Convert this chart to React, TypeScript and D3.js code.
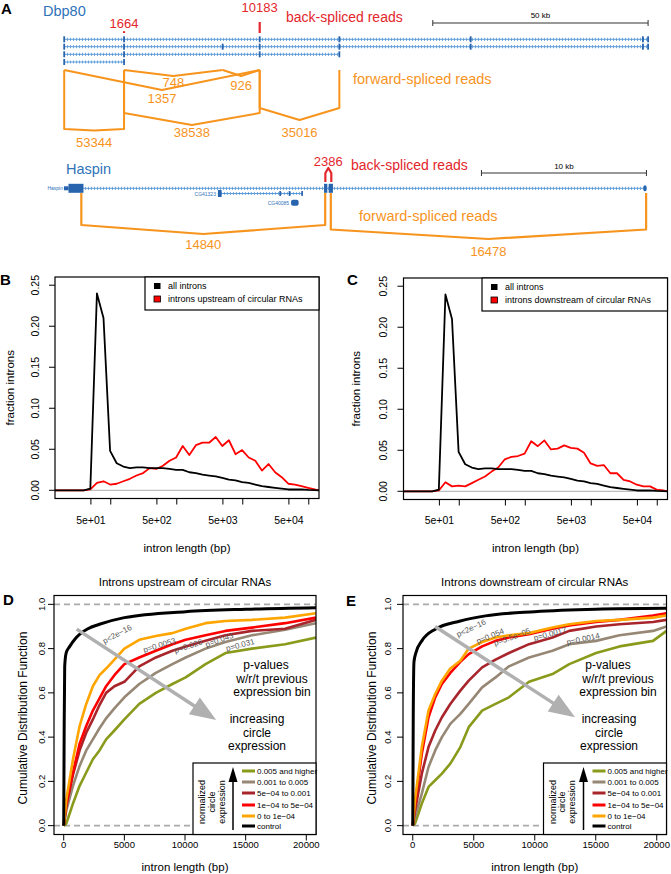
import React from "react";
import * as d3 from "d3";

const FONT = "'Liberation Sans', Arial, Helvetica, sans-serif";
const BLUE_TXT = "#2f73b8";
const TX_BLUE = "#5b9bd8";
const EXON_BLUE = "#2864ae";
const RED_A = "#e3262b";
const ORANGE_A = "#f7941d";

// ---------------- Panel A data (kb, reads) ----------------
const dbp80Transcripts: number[][] = [
  [0, 13.9, 45.4, 63.9, 94.4, 134.4, 135.6],
  [0, 13.9, 36.8, 45.4, 63.9, 94.4, 134.4, 135.6],
  [0, 13.9, 45.4, 63.9],
  [0, 13.9],
];
const dbp80BackPos = [13.9, 45.4];
const dbp80BackReads = [1664, 10183];
const dbp80FwdFrom = [0, 13.9, 45.4, 0, 13.9, 36.8];
const dbp80FwdTo = [13.9, 45.4, 63.9, 45.4, 36.8, 45.4];
const dbp80FwdReads = [53344, 38538, 35016, 1357, 748, 926];

const haspinExonStart = [0, 0.27, 15.76, 16.04, 35.12];
const haspinExonEnd = [0.27, 1.18, 15.96, 16.3, 35.3];
const cg41323ExonStart = [9.33, 13.05, 13.62, 14.38];
const cg41323ExonEnd = [9.55, 13.15, 13.72, 14.48];
const cg40085ExonStart = [13.76];
const cg40085ExonEnd = [14.22];
const haspinBackLegs = [15.84, 16.2];
const haspinBackReads = 2386;
const haspinFwdFrom = [1.05, 16.17];
const haspinFwdTo = [15.83, 35.28];
const haspinFwdReads = [14840, 16478];

// ---------------- Panels B/C data ----------------
const intronLenBins = [15.5, 19.5, 24.5, 30.9, 38.9, 49, 61.7, 77.6, 97.7, 123, 155, 195, 245, 309, 389, 490, 617, 776, 977, 1230, 1549, 1950, 2455, 3090, 3890, 4898, 6166, 7762, 9772, 12303, 15488, 19498, 24547, 30903, 38905, 48978, 61660, 77625, 97724, 123027];
const allIntronsFrac = [0, 0, 0, 0, 0, 0.002, 0.24, 0.21, 0.048, 0.033, 0.029, 0.027, 0.028, 0.028, 0.027, 0.027, 0.027, 0.026, 0.025, 0.025, 0.022, 0.021, 0.019, 0.018, 0.017, 0.015, 0.013, 0.012, 0.010, 0.009, 0.007, 0.005, 0.004, 0.003, 0.002, 0.001, 0.001, 0.001, 0.0005, 0.0003];
const upstreamFrac = [0, 0, 0, 0, 0, 0.001, 0.009, 0.011, 0.007, 0.008, 0.011, 0.014, 0.018, 0.021, 0.027, 0.026, 0.030, 0.036, 0.040, 0.054, 0.043, 0.055, 0.058, 0.058, 0.065, 0.054, 0.061, 0.044, 0.049, 0.040, 0.036, 0.024, 0.032, 0.022, 0.016, 0.008, 0.007, 0.005, 0.003, 0.001];
const downstreamFrac = [0, 0, 0, 0, 0, 0.001, 0.011, 0.006, 0.007, 0.006, 0.010, 0.014, 0.018, 0.024, 0.029, 0.039, 0.042, 0.043, 0.046, 0.061, 0.055, 0.062, 0.051, 0.052, 0.056, 0.053, 0.052, 0.047, 0.034, 0.031, 0.032, 0.022, 0.022, 0.014, 0.012, 0.008, 0.006, 0.006, 0.002, 0.001];
const densityXTicks = [50, 100, 500, 1000, 5000, 10000, 50000, 100000];
const densityXLabels = ["5e+01", "", "5e+02", "", "5e+03", "", "5e+04", ""];
const densityYTicks = [0, 0.05, 0.1, 0.15, 0.2, 0.25];
const densityYLabels = ["0.00", "0.05", "0.10", "0.15", "0.20", "0.25"];

// ---------------- Panels D/E data ----------------
const cdfLenD = [0, 219, 765, 1311, 1858, 2404, 2951, 3497, 4180, 5000, 6230, 7596, 8962, 10055, 11694, 13333, 15519, 18251, 20800];
const upOlive = [0, 0.01, 0.10, 0.18, 0.24, 0.30, 0.34, 0.39, 0.43, 0.48, 0.55, 0.60, 0.64, 0.67, 0.73, 0.78, 0.80, 0.82, 0.85];
const upBrown = [0, 0.07, 0.18, 0.27, 0.34, 0.39, 0.44, 0.485, 0.53, 0.58, 0.64, 0.69, 0.73, 0.76, 0.80, 0.83, 0.86, 0.885, 0.915];
const upDarkRed = [0, 0.09, 0.23, 0.34, 0.42, 0.48, 0.545, 0.60, 0.63, 0.65, 0.72, 0.76, 0.79, 0.81, 0.835, 0.86, 0.88, 0.89, 0.93];
const upRed = [0, 0.10, 0.24, 0.37, 0.45, 0.52, 0.575, 0.63, 0.68, 0.73, 0.76, 0.79, 0.82, 0.84, 0.86, 0.88, 0.895, 0.915, 0.94];
const upOrange = [0, 0.12, 0.30, 0.45, 0.55, 0.63, 0.68, 0.71, 0.75, 0.80, 0.84, 0.857, 0.87, 0.89, 0.915, 0.925, 0.93, 0.94, 0.96];
const controlLenD = [0, 40, 82, 200, 500, 1038, 2000, 2951, 5000, 10055, 15000, 20800];
const upControl = [0, 0.45, 0.72, 0.78, 0.81, 0.85, 0.89, 0.91, 0.94, 0.967, 0.978, 0.985];

const cdfLenE = [0, 192, 742, 1291, 1841, 2390, 3077, 3901, 4588, 5687, 6786, 7885, 9533, 11456, 12830, 15027, 16951, 19698, 20800];
const downOlive = [0, 0.01, 0.10, 0.175, 0.205, 0.235, 0.28, 0.355, 0.445, 0.52, 0.55, 0.58, 0.65, 0.685, 0.73, 0.78, 0.81, 0.835, 0.88];
const downBrown = [0, 0.04, 0.145, 0.265, 0.34, 0.40, 0.46, 0.505, 0.55, 0.625, 0.67, 0.72, 0.76, 0.79, 0.82, 0.835, 0.86, 0.88, 0.90];
const downDarkRed = [0, 0.07, 0.235, 0.355, 0.43, 0.49, 0.55, 0.61, 0.655, 0.715, 0.75, 0.78, 0.82, 0.85, 0.88, 0.90, 0.91, 0.92, 0.93];
const downRed = [0, 0.10, 0.325, 0.49, 0.58, 0.64, 0.69, 0.74, 0.775, 0.81, 0.835, 0.85, 0.865, 0.89, 0.905, 0.92, 0.93, 0.95, 0.96];
const downOrange = [0, 0.12, 0.355, 0.52, 0.595, 0.655, 0.71, 0.745, 0.80, 0.83, 0.85, 0.86, 0.87, 0.895, 0.91, 0.925, 0.93, 0.94, 0.95];
const controlLenE = [0, 40, 100, 250, 742, 1841, 3901, 5962, 10000, 15027, 20800];
const downControl = [0, 0.5, 0.74, 0.78, 0.835, 0.888, 0.925, 0.948, 0.967, 0.978, 0.982];

const binLabels = ["0.005 and higher", "0.001 to 0.005", "5e\u221204 to 0.001", "1e\u221204 to 5e\u221204", "0 to 1e\u221204", "control"];
const binColors = ["#8a9a1b", "#978775", "#a8262b", "#ff0000", "#ffa500", "#000000"];
const cdfXTicks = [0, 5000, 10000, 15000, 20000];
const cdfYTicks = [0, 0.2, 0.4, 0.6, 0.8, 1.0];
const cdfYLabels = ["0.0", "0.2", "0.4", "0.6", "0.8", "1.0"];

const pLabelsD = ["p<2e\u221216", "p=0.0053", "p=0.026", "p=0.043", "p=0.031"];
const pLabelsE = ["p<2e\u221216", "p=0.054", "p=3.5e\u221205", "p=0.0017", "p=0.0014"];

// ---------------- Panel A ----------------
function GeneRow({ x, y, x1, x2 }: any) {
  return (
    <g>
      <line x1={x(x1)} x2={x(x2)} y1={y} y2={y} stroke={TX_BLUE} strokeWidth={1} />
      <line x1={x(x1)} x2={x(x2)} y1={y} y2={y} stroke={TX_BLUE} strokeWidth={3.2} strokeDasharray="0.8 2.2" />
    </g>
  );
}

function PanelA() {
  const xd = d3.scaleLinear().domain([0, 50]).range([64.2, 279.5]);
  const xh = d3.scaleLinear().domain([0, 10]).range([64, 229]);
  const rowY = [39.3, 46.7, 54.3, 62];
  const backH = d3.scaleLinear().domain([0, 10183]).range([0, 11]);
  const backBase = 33;
  const backLabelY = [28, 12];
  const arcTop = 70;
  const arcLayout = [
    { depth: 59, dip: 1.5, ldy: 16 },
    { depth: 43, dip: 12, ldy: 12 },
    { depth: 38, dip: 12, ldy: 17 },
    { depth: 0, dip: 20, ldy: 13 },
    { depth: 0, dip: 6, ldy: 11 },
    { depth: 0, dip: 6, ldy: 14 },
  ];
  const geneEnd = d3.max(dbp80Transcripts.flat()) as number;
  const hGeneEnd = haspinExonEnd[haspinExonEnd.length - 1];
  const hTop = 193;
  const hLayout = [
    { depth: 32, dip: 9, ldy: 15 },
    { depth: 36.5, dip: 9.5, ldy: 17 },
  ];
  const hExonH = [4, 9, 9, 9, 6];
  const hY = 188.3;
  const arcPath = (a: number, b: number, top: number, L: any) => {
    const bot = top + L.depth;
    const m = (a + b) / 2;
    return `M${a},${top}L${a},${bot}L${m},${bot + L.dip}L${b},${bot}L${b},${top}`;
  };
  return (
    <g>
      <text x={1} y={14} fontSize={15} fontWeight="bold">A</text>
      <text x={43} y={16} fontSize={14.5} fill={BLUE_TXT}>Dbp80</text>
      <g stroke="#333" strokeWidth={1}>
        <line x1={xd(geneEnd - 50)} x2={xd(geneEnd)} y1={23} y2={23} />
        <line x1={xd(geneEnd - 50)} x2={xd(geneEnd - 50)} y1={20} y2={26} />
        <line x1={xd(geneEnd)} x2={xd(geneEnd)} y1={20} y2={26} />
      </g>
      <text x={xd(geneEnd - 25)} y={18} fontSize={8} textAnchor="middle">50 kb</text>
      {dbp80Transcripts.map((t, i) => (
        <g key={i}>
          <GeneRow x={xd} y={rowY[i]} x1={t[0]} x2={t[t.length - 1]} />
          {t.map((e, j) => (
            <rect key={j} x={xd(e) - 0.9} y={rowY[i] - 3} width={1.8} height={6} fill={EXON_BLUE} />
          ))}
        </g>
      ))}
      {dbp80BackPos.map((p, i) => (
        <g key={i}>
          <rect x={xd(p) - 1.1} y={backBase - Math.max(backH(dbp80BackReads[i]), 1.5)} width={2.2} height={Math.max(backH(dbp80BackReads[i]), 1.5)} fill={RED_A} />
          <text x={xd(p)} y={backLabelY[i]} fontSize={13} fill={RED_A} textAnchor="middle">{dbp80BackReads[i]}</text>
        </g>
      ))}
      <text x={286} y={22} fontSize={14} fill={RED_A}>back-spliced reads</text>
      {dbp80FwdReads.map((r, i) => {
        const a = xd(dbp80FwdFrom[i]);
        const b = xd(dbp80FwdTo[i]);
        const L = arcLayout[i];
        return (
          <g key={i}>
            <path d={arcPath(a, b, arcTop, L)} fill="none" stroke={ORANGE_A} strokeWidth={2} strokeLinejoin="round" />
            <text x={(a + b) / 2} y={arcTop + L.depth + L.dip + L.ldy} fontSize={13} fill={ORANGE_A} textAnchor="middle">{r}</text>
          </g>
        );
      })}
      <text x={353} y={84} fontSize={14.5} fill={ORANGE_A}>forward-spliced reads</text>

      <text x={66} y={174} fontSize={14.5} fill={BLUE_TXT}>Haspin</text>
      <g stroke="#333" strokeWidth={1}>
        <line x1={xh(hGeneEnd - 10)} x2={xh(hGeneEnd)} y1={173} y2={173} />
        <line x1={xh(hGeneEnd - 10)} x2={xh(hGeneEnd - 10)} y1={170} y2={176} />
        <line x1={xh(hGeneEnd)} x2={xh(hGeneEnd)} y1={170} y2={176} />
      </g>
      <text x={xh(hGeneEnd - 5)} y={169} fontSize={8} textAnchor="middle">10 kb</text>
      <text x={xh(haspinExonStart[0]) - 1} y={190} fontSize={5} fill={BLUE_TXT} textAnchor="end">Haspin</text>
      <GeneRow x={xh} y={hY} x1={haspinExonStart[0]} x2={hGeneEnd} />
      {haspinExonStart.map((s, i) => (
        <rect key={i} x={xh(s)} y={hY - hExonH[i] / 2} width={Math.max(xh(haspinExonEnd[i]) - xh(s), 2)} height={hExonH[i]} fill={EXON_BLUE} rx={i === 4 ? 1.5 : 0} />
      ))}
      <text x={xh(cg41323ExonStart[0]) - 2} y={195.5} fontSize={5} fill={BLUE_TXT} textAnchor="end">CG41323</text>
      <GeneRow x={xh} y={193.5} x1={cg41323ExonStart[0]} x2={cg41323ExonEnd[cg41323ExonEnd.length - 1]} />
      {cg41323ExonStart.map((s, i) => (
        <rect key={i} x={xh(s)} y={193.5 - (i === 0 ? 3.5 : 2.5)} width={Math.max(xh(cg41323ExonEnd[i]) - xh(s), 1.3)} height={i === 0 ? 7 : 5} fill={EXON_BLUE} />
      ))}
      <text x={xh(cg40085ExonStart[0]) - 2} y={204.5} fontSize={5} fill={BLUE_TXT} textAnchor="end">CG40085</text>
      {cg40085ExonStart.map((s, i) => (
        <rect key={i} x={xh(s)} y={202.7 - 3} width={xh(cg40085ExonEnd[i]) - xh(s)} height={6} fill={EXON_BLUE} rx={2} />
      ))}
      <path d={`M${xh(haspinBackLegs[0])},182L${xh(haspinBackLegs[0])},173L${(xh(haspinBackLegs[0]) + xh(haspinBackLegs[1])) / 2},168L${xh(haspinBackLegs[1])},173L${xh(haspinBackLegs[1])},182`} fill="none" stroke={RED_A} strokeWidth={2.2} strokeLinejoin="round" />
      <text x={(xh(haspinBackLegs[0]) + xh(haspinBackLegs[1])) / 2} y={166} fontSize={13} fill={RED_A} textAnchor="middle">{haspinBackReads}</text>
      <text x={351} y={170} fontSize={14} fill={RED_A}>back-spliced reads</text>
      {haspinFwdReads.map((r, i) => {
        const a = xh(haspinFwdFrom[i]);
        const b = xh(haspinFwdTo[i]);
        const L = hLayout[i];
        return (
          <g key={i}>
            <path d={arcPath(a, b, hTop, L)} fill="none" stroke={ORANGE_A} strokeWidth={2.2} strokeLinejoin="round" />
            <text x={(a + b) / 2} y={hTop + L.depth + L.dip + L.ldy} fontSize={13} fill={ORANGE_A} textAnchor="middle">{r}</text>
          </g>
        );
      })}
      <text x={359} y={221} fontSize={14.5} fill={ORANGE_A}>forward-spliced reads</text>
    </g>
  );
}

// ---------------- Panels B / C ----------------
function DensityPanel({ box, letter, letterX, legendLeft, legendText, series, ylabX, ytickX, id }: any) {
  const x = d3.scaleLog().domain([10 ** 1.155, 10 ** 5.155]).range([box.l, box.r]);
  const y = d3.scaleLinear().domain([-0.01, 0.26]).range([box.b, box.t]);
  const [xmin, xmax] = x.domain();
  const line = d3.line<[number, number]>().x((d) => x(d[0])).y((d) => y(d[1]));
  const mk = (vals: number[]) => {
    const pts: [number, number][] = intronLenBins.map((l, i) => [l, vals[i]]);
    return line([[xmin, 0], ...pts, [xmax, 0]]);
  };
  return (
    <g>
      <text x={letterX} y={285} fontSize={15} fontWeight="bold">{letter}</text>
      <defs>
        <clipPath id={id}><rect x={box.l} y={box.t} width={box.r - box.l} height={box.b - box.t} /></clipPath>
      </defs>
      <g clipPath={`url(#${id})`}>
        <line x1={box.l} x2={box.r} y1={y(0)} y2={y(0)} stroke="#bdbdbd" strokeWidth={1.2} />
        <path d={mk(series[1]) || ""} fill="none" stroke="#ff0000" strokeWidth={1.8} strokeLinejoin="round" />
        <path d={mk(series[0]) || ""} fill="none" stroke="#000" strokeWidth={1.8} strokeLinejoin="round" />
      </g>
      <rect x={box.l} y={box.t} width={box.r - box.l} height={box.b - box.t} fill="none" stroke="#000" strokeWidth={1.2} />
      {densityXTicks.map((t, i) => (
        <g key={i}>
          <line x1={x(t)} x2={x(t)} y1={box.b} y2={box.b + 6} stroke="#000" />
          {densityXLabels[i] && (
            <text x={x(t)} y={520} dy="0.35em" fontSize={10.5} textAnchor="middle">{densityXLabels[i]}</text>
          )}
        </g>
      ))}
      {densityYTicks.map((t, i) => (
        <g key={i}>
          <line x1={box.l - 6} x2={box.l} y1={y(t)} y2={y(t)} stroke="#000" />
          <text transform={`translate(${ytickX},${y(t)}) rotate(-90)`} dy="0.35em" fontSize={10.5} textAnchor="middle">{densityYLabels[i]}</text>
        </g>
      ))}
      <text transform={`translate(${ylabX},${(box.t + box.b) / 2}) rotate(-90)`} dy="0.35em" fontSize={11.5} textAnchor="middle">fraction introns</text>
      <text x={(box.l + box.r) / 2} y={552} fontSize={11.5} textAnchor="middle">intron length (bp)</text>
      <rect x={legendLeft} y={box.t} width={box.r - legendLeft} height={33} fill="#fff" stroke="#000" strokeWidth={1.2} />
      <rect x={legendLeft + 9} y={box.t + 6} width={6.5} height={6} fill="#000" />
      <rect x={legendLeft + 9} y={box.t + 19} width={6.5} height={6} fill="#ff0000" stroke="#000" strokeWidth={0.8} />
      <text x={legendLeft + 23} y={box.t + 9} dy="0.35em" fontSize={9}>all introns</text>
      <text x={legendLeft + 23} y={box.t + 22} dy="0.35em" fontSize={9}>{legendText}</text>
    </g>
  );
}

// ---------------- Panels D / E ----------------
function Arrow({ x1, y1, x2, y2, color, width, headLen, headW }: any) {
  const dx = x2 - x1, dy = y2 - y1;
  const L = Math.hypot(dx, dy);
  const ux = dx / L, uy = dy / L;
  const bx = x2 - ux * headLen, by = y2 - uy * headLen;
  const px = -uy, py = ux;
  return (
    <g>
      <line x1={x1} y1={y1} x2={bx + ux} y2={by + uy} stroke={color} strokeWidth={width} />
      <polygon points={`${x2},${y2} ${bx + px * headW},${by + py * headW} ${bx - px * headW},${by - py * headW}`} fill={color} />
    </g>
  );
}

function CDFPanel({ box, letter, letterPos, title, lens, series, controlLens, control, pLabels, pPos, arrow, id, ylabX, ytickX, pBlockX, incBlockX }: any) {
  const x = d3.scaleLinear().domain([-800, 20800]).range([box.l, box.r]);
  const y = d3.scaleLinear().domain([-0.04, 1.04]).range([box.b, box.t]);
  const line = d3.line<number>().x((d, i) => x(lens[i])).y((d) => y(d));
  const cline = d3.line<number>().x((d, i) => x(controlLens[i])).y((d) => y(d)).curve(d3.curveMonotoneX);
  const legL = box.r - 123;
  const legT = 763;
  const entryY = [8, 19, 30, 42, 53, 63];
  return (
    <g>
      <text x={letterPos[0]} y={letterPos[1]} fontSize={15} fontWeight="bold">{letter}</text>
      <text x={(box.l + box.r) / 2} y={586} fontSize={11.5} textAnchor="middle">{title}</text>
      <defs>
        <clipPath id={id}><rect x={box.l} y={box.t} width={box.r - box.l} height={box.b - box.t} /></clipPath>
      </defs>
      <g clipPath={`url(#${id})`}>
        {[0, 1].map((v) => (
          <line key={v} x1={box.l} x2={box.r} y1={y(v)} y2={y(v)} stroke="#aaaaaa" strokeWidth={1.6} strokeDasharray="6 4" />
        ))}
        {series.map((s: number[], i: number) => (
          <path key={i} d={line(s) || ""} fill="none" stroke={binColors[i]} strokeWidth={2.6} strokeLinejoin="round" />
        ))}
        <path d={cline(control) || ""} fill="none" stroke="#000" strokeWidth={3} />
        {pLabels.map((t: string, i: number) => (
          <text key={i} transform={`translate(${x(pPos[i][0])},${y(pPos[i][1])}) rotate(${pPos[i][2]})`} dy="0.35em" fontSize={8} fill="#555" textAnchor="middle">{t}</text>
        ))}
        <Arrow x1={x(arrow[0])} y1={y(arrow[1])} x2={x(arrow[2])} y2={y(arrow[3])} color="#b0b0b0" width={3.5} headLen={26} headW={10} />
        {["p-values", "w/r/t previous", "expression bin"].map((t, i) => (
          <text key={t} x={pBlockX[i]} y={669 + i * 13.6} fontSize={12} textAnchor="middle">{t}</text>
        ))}
        {["increasing", "circle", "expression"].map((t, i) => (
          <text key={t} x={incBlockX} y={723 + i * 13.6} fontSize={12} textAnchor="middle">{t}</text>
        ))}
      </g>
      <rect x={box.l} y={box.t} width={box.r - box.l} height={box.b - box.t} fill="none" stroke="#000" strokeWidth={1.2} />
      {cdfXTicks.map((t) => (
        <g key={t}>
          <line x1={x(t)} x2={x(t)} y1={box.b} y2={box.b + 6} stroke="#000" />
          <text x={x(t)} y={845} dy="0.35em" fontSize={9.5} textAnchor="middle">{t}</text>
        </g>
      ))}
      {cdfYTicks.map((t, i) => (
        <g key={t}>
          <line x1={box.l - 6} x2={box.l} y1={y(t)} y2={y(t)} stroke="#000" />
          <text transform={`translate(${ytickX},${y(t)}) rotate(-90)`} dy="0.35em" fontSize={9.5} textAnchor="middle">{cdfYLabels[i]}</text>
        </g>
      ))}
      <text transform={`translate(${ylabX},${(box.t + box.b) / 2 + 3}) rotate(-90)`} dy="0.35em" fontSize={12} textAnchor="middle">Cumulative Distribution Function</text>
      <text x={(box.l + box.r) / 2} y={871} fontSize={11.5} textAnchor="middle">intron length (bp)</text>
      <rect x={legL} y={legT} width={box.r - legL} height={box.b - legT} fill="#fff" stroke="#000" strokeWidth={1.2} />
      {["normalized", "circle", "expression"].map((t, i) => (
        <text key={t} transform={`translate(${legL + 9 + i * 9.7},${802}) rotate(-90)`} dy="0.35em" fontSize={9} textAnchor="middle">{t}</text>
      ))}
      <Arrow x1={legL + 40} y1={830} x2={legL + 40} y2={767} color="#000" width={1.5} headLen={15} headW={4.5} />
      {binLabels.map((t, i) => (
        <g key={t}>
          <line x1={legL + 49} x2={legL + 62} y1={legT + entryY[i]} y2={legT + entryY[i]} stroke={binColors[i]} strokeWidth={3} />
          <text x={legL + 64} y={legT + entryY[i]} dy="0.35em" fontSize={8}>{t}</text>
        </g>
      ))}
    </g>
  );
}

export default function App() {
  const pPosD = [[4400, 0.866, -28], [7890, 0.816, -17], [10270, 0.812, -18], [12820, 0.84, -20], [14550, 0.817, -15]];
  const pPosE = [[4780, 0.893, -25], [6340, 0.857, -22], [8140, 0.853, -20], [11250, 0.867, -15], [13960, 0.844, -12]];
  return (
    <svg width={671} height={874} style={{ position: "absolute", left: 0, top: 0, background: "#fff" }} fontFamily={FONT}>
      <rect width={671} height={874} fill="#fff" />
      <PanelA />
      <DensityPanel id="clipB" box={{ l: 55, r: 319, t: 277, b: 498.5 }} letter="B" letterX={0} legendLeft={145}
        legendText="introns upstream of circular RNAs" series={[allIntronsFrac, upstreamFrac]} ylabX={10} ytickX={35} />
      <DensityPanel id="clipC" box={{ l: 403.5, r: 667.5, t: 278, b: 499.5 }} letter="C" letterX={347} legendLeft={482}
        legendText="introns downstream of circular RNAs" series={[allIntronsFrac, downstreamFrac]} ylabX={356} ytickX={383} />
      <CDFPanel id="clipD" box={{ l: 54, r: 316, t: 595.5, b: 834.5 }} letter="D" letterPos={[3, 605]}
        title="Introns upstream of circular RNAs" lens={cdfLenD}
        series={[upOlive, upBrown, upDarkRed, upRed, upOrange]} controlLens={controlLenD} control={upControl}
        pLabels={pLabelsD} pPos={pPosD} arrow={[1070, 0.888, 12570, 0.477]} ylabX={23} ytickX={42}
        pBlockX={[266, 272, 272]} incBlockX={257} />
      <CDFPanel id="clipE" box={{ l: 403, r: 666.5, t: 595.5, b: 834.5 }} letter="E" letterPos={[346, 606]}
        title="Introns downstream of circular RNAs" lens={cdfLenE}
        series={[downOlive, downBrown, downDarkRed, downRed, downOrange]} controlLens={controlLenE} control={downControl}
        pLabels={pLabelsE} pPos={pPosE} arrow={[1830, 0.9, 13300, 0.49]} ylabX={372} ytickX={388}
        pBlockX={[608, 618, 618]} incBlockX={609} />
    </svg>
  );
}
